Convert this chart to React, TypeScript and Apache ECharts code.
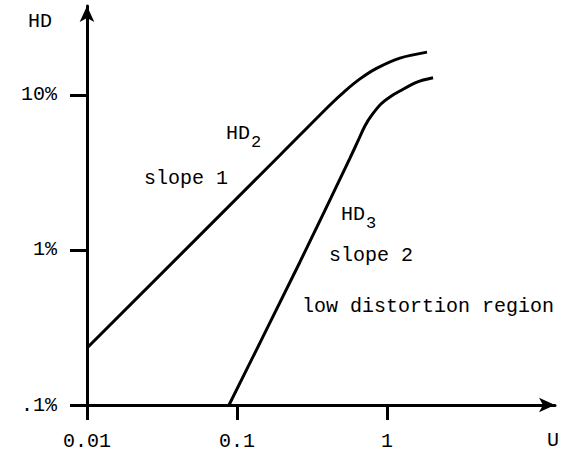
import React, { useEffect, useRef } from "react";
import * as echarts from "echarts";

// Amplitude U (log) and harmonic distortion HD in % (log)
const hd2U = [0.01, 0.194, 0.417, 0.525, 0.661, 0.858, 1.22, 1.85];
const hd2Values = [0.233, 4.1, 8.62, 10.6, 12.7, 14.9, 17.3, 18.9];
const hd3U = [0.0885, 0.263, 0.567, 0.641, 0.713, 0.794, 0.912, 1.047, 1.22, 1.585, 2.03];
const hd3Values = [0.1, 0.837, 3.92, 5.05, 6.31, 7.43, 8.75, 9.71, 10.6, 12.1, 12.9];
const xTicks = [0.01, 0.1, 1];
const yTicks = [0.1, 1, 10];
const yTickLabels: Record<string, string> = { "0.1": ".1%", "1": "1%", "10": "10%" };

const FONT = "Liberation Mono";
const WEIGHT = "normal";
const BLACK = "#000";

export default function App() {
  const ref = useRef<HTMLDivElement>(null);
  useEffect(() => {
    if (!ref.current) return;
    const chart = echarts.init(ref.current, null, { renderer: "svg" });
    const txt = (text: string, x: number, y: number, size = 20, align = "left") => ({
      type: "text",
      x,
      y,
      style: {
        text,
        fontFamily: FONT,
        fontWeight: WEIGHT,
        fontSize: size,
        fill: BLACK,
        align,
        verticalAlign: "middle",
      },
    });
    chart.setOption({
      animation: false,
      backgroundColor: "#fff",
      textStyle: { fontFamily: FONT },
      grid: { left: 87, right: 19, top: 6, bottom: 50 },
      xAxis: {
        type: "log",
        logBase: 10,
        min: 0.01,
        max: 13.2,
        splitLine: { show: false },
        axisLine: { lineStyle: { color: BLACK, width: 3 }, symbol: ["none", "arrow"], symbolSize: [11, 16] },
        axisTick: { customValues: xTicks, length: 15, lineStyle: { color: BLACK, width: 3 } },
        axisLabel: {
          customValues: xTicks,
          margin: 26,
          color: BLACK,
          fontFamily: FONT,
          fontWeight: WEIGHT,
          fontSize: 20,
          formatter: (v: number) => String(v),
        },
        minorTick: { show: false },
      },
      yAxis: {
        type: "log",
        logBase: 10,
        min: 0.1,
        max: 37.5,
        splitLine: { show: false },
        axisLine: { lineStyle: { color: BLACK, width: 3 }, symbol: ["none", "arrow"], symbolSize: [11, 16] },
        axisTick: { customValues: yTicks, length: 17, lineStyle: { color: BLACK, width: 3 } },
        axisLabel: {
          customValues: yTicks,
          margin: 30,
          color: BLACK,
          fontFamily: FONT,
          fontWeight: WEIGHT,
          fontSize: 20,
          formatter: (v: number) => yTickLabels[String(v)] ?? "",
        },
      },
      series: [
        {
          name: "HD2",
          type: "line",
          data: hd2U.map((u, i) => [u, hd2Values[i]]),
          smooth: 0.3,
          showSymbol: false,
          lineStyle: { color: BLACK, width: 3 },
        },
        {
          name: "HD3",
          type: "line",
          data: hd3U.map((u, i) => [u, hd3Values[i]]),
          smooth: 0.3,
          showSymbol: false,
          lineStyle: { color: BLACK, width: 3 },
        },
      ],
      graphic: [
        txt("HD", 28, 21),
        txt("U", 553, 440, 20, "center"),
        txt("HD", 226, 133),
        txt("2", 251, 142, 17),
        txt("slope 1", 144, 178),
        txt("HD", 341, 214),
        txt("3", 366, 223, 17),
        txt("slope 2", 329, 255),
        txt("low distortion region", 302, 306),
      ],
    });
    return () => chart.dispose();
  }, []);
  return <div ref={ref} style={{ position: "fixed", left: 0, top: 0, width: 574, height: 455 }} />;
}
